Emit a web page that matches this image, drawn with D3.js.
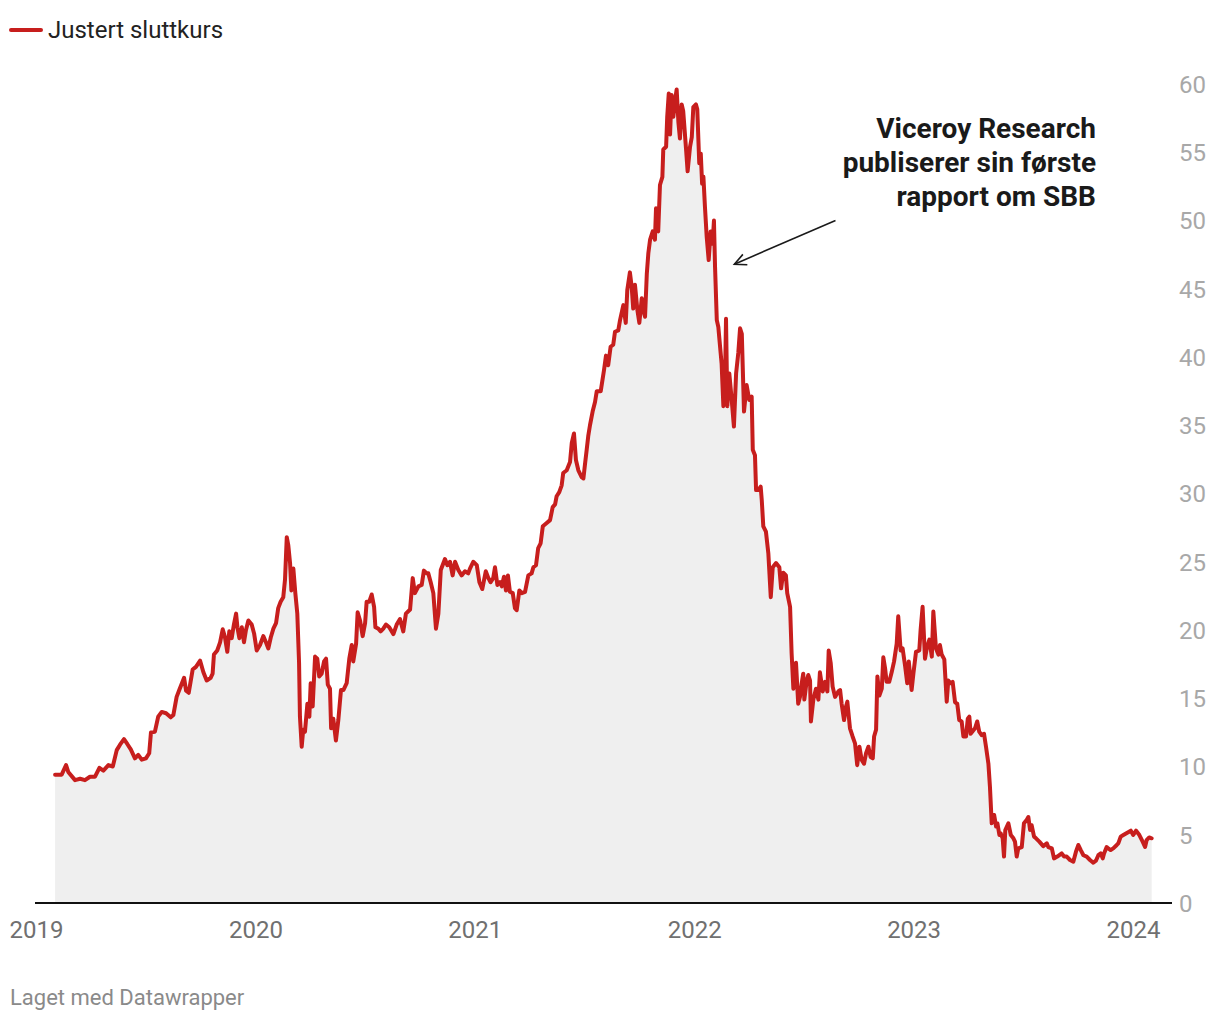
<!DOCTYPE html>
<html>
<head>
<meta charset="utf-8">
<script src="https://cdn.jsdelivr.net/npm/d3@7"></script>
<style>
  html, body { margin: 0; padding: 0; background: #fff; }
  svg { display: block; font-family: Roboto, "Noto Sans", sans-serif; }
</style>
</head>
<body>
<svg id="chart" width="1220" height="1020"></svg>
<script>
// ---- DATA (dates as decimal years, adjusted close price) ----
const dates = [
2019.087,2019.117,2019.137,2019.147,2019.178,2019.201,2019.223,2019.246,2019.269,2019.289,
2019.307,2019.330,2019.350,2019.368,2019.383,2019.401,2019.416,2019.432,2019.451,2019.466,
2019.482,2019.501,2019.516,2019.524,2019.542,2019.557,2019.573,2019.593,2019.614,2019.626,
2019.641,2019.653,2019.675,2019.684,2019.696,2019.714,2019.729,2019.748,2019.763,2019.778,
2019.796,2019.805,2019.811,2019.826,2019.839,2019.851,2019.861,2019.872,2019.881,2019.892,
2019.902,2019.912,2019.918,2019.927,2019.938,2019.948,2019.957,2019.968,2019.983,2019.994,
2020.006,2020.021,2020.036,2020.048,2020.059,2020.070,2020.082,2020.094,2020.104,2020.115,
2020.127,2020.135,2020.143,2020.150,2020.158,2020.164,2020.173,2020.182,2020.191,2020.199,
2020.203,2020.211,2020.218,2020.226,2020.237,2020.246,2020.252,2020.261,2020.272,2020.282,
2020.291,2020.302,2020.313,2020.322,2020.330,2020.340,2020.345,2020.355,2020.367,2020.378,
2020.390,2020.401,2020.416,2020.428,2020.439,2020.446,2020.459,2020.466,2020.477,2020.489,
2020.500,2020.507,2020.519,2020.530,2020.541,2020.547,2020.560,2020.571,2020.583,2020.595,
2020.610,2020.629,2020.644,2020.659,2020.674,2020.686,2020.705,2020.717,2020.727,2020.743,
2020.758,2020.768,2020.781,2020.788,2020.799,2020.811,2020.823,2020.834,2020.845,2020.864,
2020.875,2020.887,2020.899,2020.910,2020.925,2020.940,2020.955,2020.970,2020.978,2020.993,
2021.009,2021.021,2021.034,2021.050,2021.062,2021.072,2021.084,2021.092,2021.103,2021.115,
2021.123,2021.133,2021.142,2021.151,2021.160,2021.173,2021.183,2021.191,2021.203,2021.214,
2021.229,2021.244,2021.259,2021.267,2021.279,2021.289,2021.300,2021.310,2021.325,2021.343,
2021.355,2021.366,2021.373,2021.385,2021.396,2021.403,2021.419,2021.434,2021.442,2021.452,
2021.461,2021.472,2021.487,2021.495,2021.502,2021.510,2021.517,2021.525,2021.537,2021.548,
2021.556,2021.574,2021.589,2021.598,2021.608,2021.619,2021.631,2021.639,2021.654,2021.662,
2021.677,2021.688,2021.695,2021.707,2021.715,2021.722,2021.730,2021.741,2021.750,2021.761,
2021.768,2021.776,2021.784,2021.791,2021.799,2021.811,2021.821,2021.826,2021.836,2021.844,
2021.855,2021.859,2021.872,2021.877,2021.884,2021.890,2021.897,2021.905,2021.913,2021.920,
2021.928,2021.935,2021.943,2021.950,2021.963,2021.970,2021.981,2021.989,2021.996,2022.008,
2022.014,2022.023,2022.030,2022.036,2022.042,2022.049,2022.057,2022.066,2022.075,2022.084,
2022.090,2022.095,2022.103,2022.110,2022.118,2022.125,2022.133,2022.140,2022.145,2022.151,
2022.160,2022.171,2022.181,2022.191,2022.201,2022.209,2022.217,2022.227,2022.239,2022.251,
2022.262,2022.267,2022.277,2022.282,2022.292,2022.303,2022.308,2022.315,2022.327,2022.338,
2022.349,2022.358,2022.373,2022.388,2022.396,2022.406,2022.418,2022.424,2022.437,2022.444,
2022.452,2022.464,2022.474,2022.482,2022.490,2022.497,2022.502,2022.513,2022.520,2022.528,
2022.532,2022.543,2022.555,2022.566,2022.573,2022.586,2022.596,2022.607,2022.613,2022.622,
2022.631,2022.642,2022.657,2022.665,2022.672,2022.683,2022.692,2022.698,2022.710,2022.722,
2022.733,2022.743,2022.753,2022.763,2022.774,2022.783,2022.794,2022.804,2022.814,2022.820,
2022.829,2022.835,2022.844,2022.855,2022.862,2022.870,2022.877,2022.889,2022.900,2022.911,
2022.923,2022.930,2022.941,2022.950,2022.961,2022.971,2022.978,2022.991,2022.999,2023.011,
2023.026,2023.032,2023.041,2023.052,2023.060,2023.072,2023.083,2023.090,2023.102,2023.113,
2023.120,2023.128,2023.140,2023.151,2023.158,2023.169,2023.178,2023.189,2023.199,2023.208,
2023.219,2023.227,2023.239,2023.247,2023.254,2023.260,2023.280,2023.290,2023.299,2023.310,
2023.321,2023.330,2023.341,2023.348,2023.356,2023.367,2023.376,2023.382,2023.391,2023.397,
2023.406,2023.412,2023.418,2023.432,2023.443,2023.455,2023.462,2023.470,2023.477,2023.493,
2023.503,2023.516,2023.523,2023.531,2023.538,2023.549,2023.558,2023.573,2023.591,2023.607,
2023.614,2023.630,2023.640,2023.655,2023.675,2023.686,2023.698,2023.713,2023.728,2023.740,
2023.751,2023.762,2023.774,2023.789,2023.804,2023.819,2023.831,2023.842,2023.853,2023.862,
2023.868,2023.880,2023.887,2023.898,2023.910,2023.926,2023.933,2023.944,2023.956,2023.974,
2023.990,2024.001,2024.014,2024.029,2024.044,2024.055,2024.062,2024.074,2024.085
];
const prices = [
9.4,9.4,10.1,9.6,9.0,9.1,9.0,9.25,9.25,9.9,
9.7,10.1,10.0,11.2,11.6,12.0,11.65,11.25,10.6,10.85,
10.5,10.6,10.97,12.5,12.55,13.65,14.0,13.9,13.6,13.77,
15.1,15.6,16.5,15.55,15.4,17.1,17.3,17.75,16.9,16.3,
16.5,16.8,18.2,18.5,19.1,20.05,19.5,18.4,19.9,19.4,
20.4,21.2,20.2,19.4,20.2,19.1,20.0,20.7,20.4,19.75,
18.5,18.9,19.55,19.1,18.65,19.45,20.1,20.5,21.6,22.07,
22.4,23.7,26.8,26.2,24.9,22.9,24.5,22.7,21.2,17.6,
13.65,11.45,12.7,12.55,14.6,13.65,16.1,14.4,18.05,17.9,
16.6,16.8,17.7,17.9,16.0,15.7,12.8,13.5,11.9,13.4,
15.6,15.6,16.1,17.9,18.9,17.7,19.0,21.3,20.7,19.55,
20.5,22.07,22.07,22.6,21.7,20.2,20.1,19.9,20.1,20.4,
20.2,19.7,20.4,20.8,19.9,21.2,21.5,23.8,22.7,23.2,
23.3,24.35,24.15,24.15,23.5,22.7,20.1,21.2,24.4,25.2,
24.75,25.0,24.0,25.0,24.4,24.0,24.3,24.15,24.5,25.0,
24.75,23.5,23.0,24.3,23.8,23.5,23.8,24.6,23.3,23.5,
23.2,23.9,22.9,24.0,22.8,22.7,21.6,21.45,22.9,22.7,
22.8,24.0,24.15,24.6,24.75,26.0,26.35,27.6,27.8,28.05,
29.0,29.2,29.8,30.1,30.6,31.5,31.7,32.3,33.7,34.4,
32.45,31.7,31.2,31.1,32.1,33.2,34.2,35.0,36.0,36.7,
37.5,37.5,39.05,40.1,39.4,40.75,40.9,41.85,41.95,42.7,
43.8,42.5,44.9,46.2,45.15,43.55,45.3,43.45,42.5,44.3,
43.45,42.95,46.1,47.6,48.6,49.2,48.6,50.9,49.2,52.6,
53.2,55.2,55.4,57.6,59.3,56.3,59.2,57.6,58.85,59.6,
57.2,56.0,58.5,58.0,55.2,53.6,55.4,56.1,58.3,58.5,
58.15,54.2,54.9,52.7,53.2,51.0,48.8,47.1,49.2,48.3,
50.0,46.6,42.7,42.2,40.75,39.5,36.4,37.8,42.8,36.4,
38.8,36.85,34.9,38.8,40.3,42.1,41.7,36.0,37.95,36.85,
37.1,33.2,32.8,30.25,30.25,30.5,29.5,27.6,27.2,25.6,
22.4,24.6,24.9,24.6,23.05,24.2,24.0,22.7,21.7,18.3,
15.7,17.6,14.6,15.1,16.1,16.8,14.9,16.3,16.7,16.3,
13.3,14.9,15.7,14.9,16.9,15.5,16.2,15.5,18.5,17.6,
15.85,15.1,15.5,15.6,14.6,13.4,14.4,14.75,12.8,12.2,
11.7,10.1,11.45,10.5,10.2,10.95,11.45,10.7,10.6,12.2,
12.7,16.6,15.2,15.7,18.0,17.2,16.2,16.2,16.9,17.7,
19.0,21.0,18.5,18.65,17.4,16.1,17.7,15.6,16.8,18.4,
18.5,20.0,21.7,17.9,18.65,19.3,18.05,21.35,18.65,18.2,
18.9,18.2,17.85,14.75,16.3,16.1,16.2,14.7,14.6,13.4,
13.3,12.2,12.2,13.5,13.65,12.4,12.8,13.3,12.55,12.3,
12.4,11.45,10.2,8.5,5.84,6.45,5.6,5.84,4.98,5.1,
4.74,3.4,5.35,5.84,4.98,4.74,4.5,3.4,4.0,4.1,
5.84,6.1,6.3,5.35,5.7,4.86,4.74,4.5,4.17,4.37,
4.1,4.0,3.27,3.4,3.63,3.4,3.4,3.15,3.03,3.76,
4.25,3.88,3.5,3.4,3.15,2.95,3.1,3.5,3.63,3.27,
3.63,4.1,4.0,3.88,4.0,4.25,4.37,4.86,4.98,5.15,
5.3,4.98,5.3,4.98,4.5,4.1,4.6,4.8,4.74
];
const yearTicks = [2019, 2020, 2021, 2022, 2023, 2024];
const yTicks = [0, 5, 10, 15, 20, 25, 30, 35, 40, 45, 50, 55, 60];
const seriesName = "Justert sluttkurs";
const annotationLines = ["Viceroy Research", "publiserer sin første", "rapport om SBB"];
const annotationArrow = { fromDate: 2022.644, fromValue: 50.0, toDate: 2022.183, toValue: 46.8 };
const footerText = "Laget med Datawrapper";

// ---- CHART ----
const data = dates.map((d, i) => ({ t: d, v: prices[i] }));
const svg = d3.select("#chart");
const RED = "#c71e1d";

const x = d3.scaleLinear().domain([2019, 2024]).range([36, 1133]);
const y = d3.scaleLinear().domain([0, 60]).range([903, 84]);

// area
svg.append("path")
  .datum(data)
  .attr("fill", "#efefef")
  .attr("d", d3.area().x(d => x(d.t)).y0(y(0)).y1(d => y(d.v)));

// baseline axis
svg.append("line")
  .attr("x1", 35).attr("x2", 1172)
  .attr("y1", y(0)).attr("y2", y(0))
  .attr("stroke", "#111").attr("stroke-width", 2);

// line
svg.append("path")
  .datum(data)
  .attr("fill", "none")
  .attr("stroke", RED)
  .attr("stroke-width", 4)
  .attr("stroke-linejoin", "round")
  .attr("stroke-linecap", "round")
  .attr("d", d3.line().x(d => x(d.t)).y(d => y(d.v)));

// y axis labels (right)
const yAxis = d3.axisRight(y).tickValues(yTicks).tickSize(0).tickPadding(0);
const yg = svg.append("g").attr("transform", "translate(1179,0)").call(yAxis);
yg.select(".domain").remove();
yg.selectAll("text")
  .attr("font-family", "Roboto, sans-serif")
  .attr("font-size", 24)
  .attr("fill", "#a8a8a8")
  .attr("dy", "0.35em");

// x axis labels
const xAxis = d3.axisBottom(x).tickValues(yearTicks).tickFormat(d3.format("d")).tickSize(0).tickPadding(0);
const xg = svg.append("g").attr("transform", "translate(0,921)").call(xAxis);
xg.select(".domain").remove();
xg.selectAll("text")
  .attr("font-family", "Roboto, sans-serif")
  .attr("font-size", 24)
  .attr("fill", "#707070")
  .attr("dy", "0.71em");

// legend
svg.append("line")
  .attr("x1", 11).attr("x2", 41).attr("y1", 30).attr("y2", 30)
  .attr("stroke", RED).attr("stroke-width", 4).attr("stroke-linecap", "round");
svg.append("text")
  .attr("x", 48).attr("y", 30).attr("dy", "0.35em")
  .attr("font-size", 24).attr("fill", "#222")
  .text(seriesName);

// annotation text
const ann = svg.append("text")
  .attr("text-anchor", "end")
  .attr("font-size", 28).attr("font-weight", 700).attr("fill", "#1a1a1a");
annotationLines.forEach((l, i) => {
  ann.append("tspan").attr("x", 1096).attr("y", 138 + i * 34).text(l);
});

// arrow
const ax1 = x(annotationArrow.fromDate), ay1 = y(annotationArrow.fromValue);
const ax2 = x(annotationArrow.toDate), ay2 = y(annotationArrow.toValue);
svg.append("line")
  .attr("x1", ax1).attr("y1", ay1).attr("x2", ax2).attr("y2", ay2)
  .attr("stroke", "#1a1a1a").attr("stroke-width", 1.6);
const ang = Math.atan2(ay2 - ay1, ax2 - ax1);
const hl = 13, ha = Math.PI / 7;
const p1 = [ax2 - hl * Math.cos(ang - ha), ay2 - hl * Math.sin(ang - ha)];
const p2 = [ax2 - hl * Math.cos(ang + ha), ay2 - hl * Math.sin(ang + ha)];
svg.append("path")
  .attr("d", `M${p1[0]},${p1[1]} L${ax2},${ay2} L${p2[0]},${p2[1]}`)
  .attr("fill", "none").attr("stroke", "#1a1a1a").attr("stroke-width", 1.6)
  .attr("stroke-linejoin", "miter");

// footer
svg.append("text")
  .attr("x", 10).attr("y", 997).attr("dy", "0.35em")
  .attr("font-size", 22).attr("fill", "#8a8a8a")
  .text(footerText);
</script>
</body>
</html>
